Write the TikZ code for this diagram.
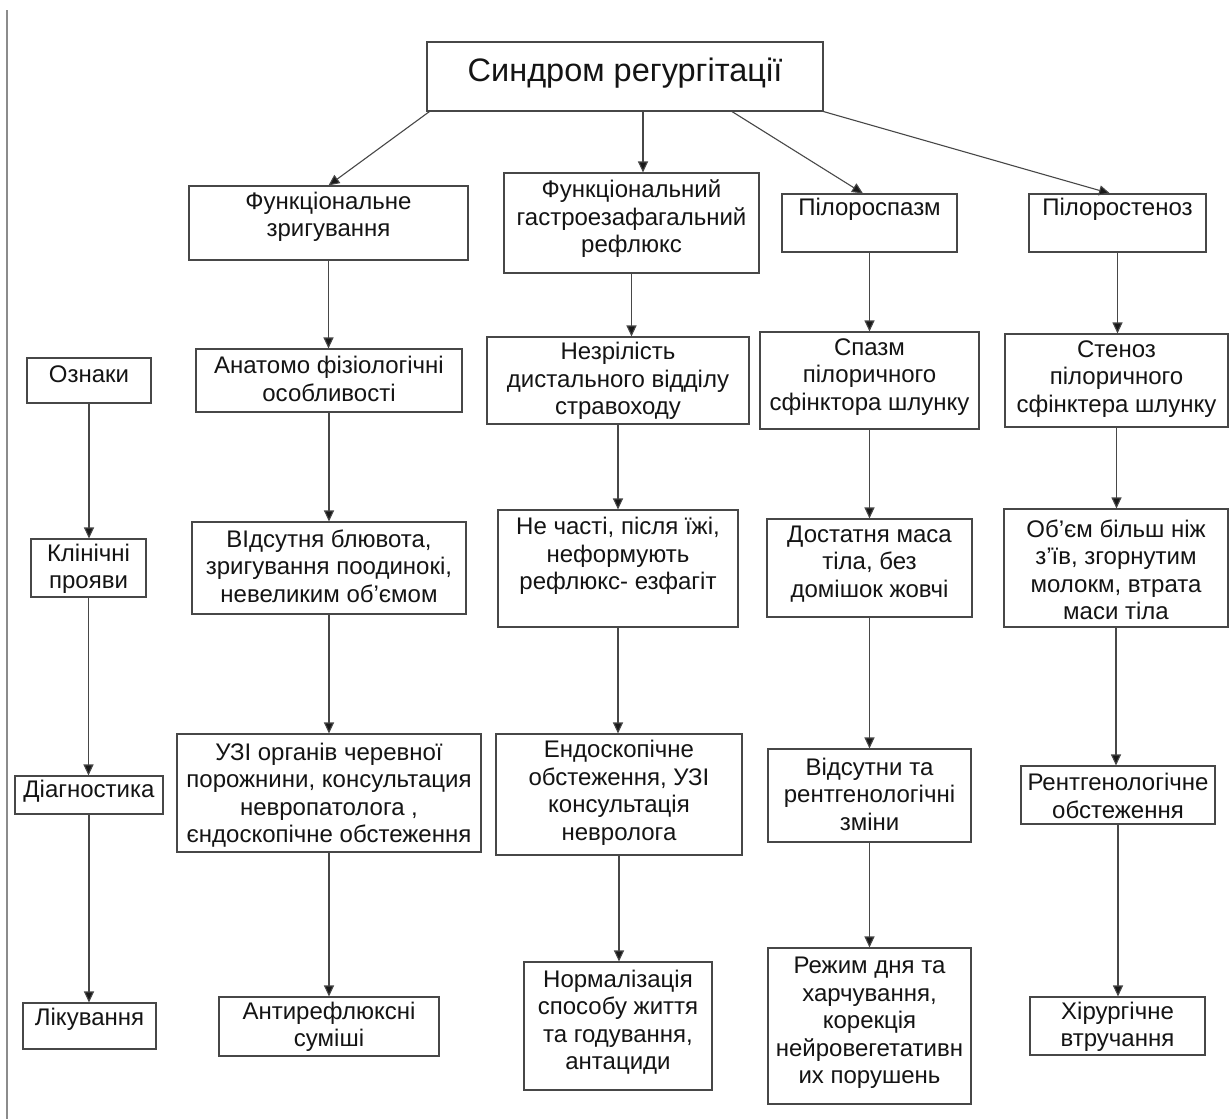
\documentclass[tikz,border=0pt]{standalone}
\usepackage{fontspec}
\setmainfont{Liberation Sans}
\usetikzlibrary{arrows.meta}
\newcommand{\mybox}[7]{%
 \node[boxshape,minimum width={(#4-#2)*1pt},minimum height={(#5-#3)*1pt}] (#1) at ({(#2+#4)/2},{(#3+#5)/2}) {};
 \node[txt] (#1-t) at ({(#2+#4)/2},#6) {#7};}
\begin{document}
\begin{tikzpicture}[x=1pt,y=-1pt,
  boxshape/.style={draw=black!72,line width=1.1pt,inner sep=0pt,rectangle},
  txt/.style={align=center,inner sep=0pt,font=\fontsize{24}{27.5}\selectfont,text=black!92},
  conn/.style={draw=black!72,line width=1.1pt,-{Triangle[length=11pt,width=10pt,fill=black!90]}}]
\useasboundingbox (0,0) rectangle (1229,1119);
\fill[white] (0,0) rectangle (1229,1119);
\draw[black!45,line width=1.2pt] (7,10) -- (7,1119);
% title
\node[boxshape,minimum width=396pt,minimum height=69pt] (title) at (625,76.5) {};
\node[inner sep=0pt,font=\fontsize{32.5}{38}\selectfont,text=black!92] (title-t) at (625,73) {Синдром регургітації};
% row 1
\mybox{f1}{189}{186}{468}{260}{217}{Функціональне\\зригування}
\mybox{f2}{504}{173}{759}{273}{219}{Функціональний\\гастроезафагальний\\рефлюкс}
\mybox{f3}{782}{194}{957}{252}{209}{Пілороспазм}
\mybox{f4}{1029}{194}{1206}{252}{209}{Пілоростеноз}
% row 2
\mybox{oz}{27}{358}{151}{403}{374}{Ознаки}
\mybox{a2}{196}{349}{462}{412}{379}{Анатомо фізіологічні\\особливості}
\mybox{b2}{487}{337}{749}{424}{381}{Незрілість\\дистального відділу\\стравоходу}
\mybox{c2}{760}{332}{979}{429}{377}{Спазм\\пілоричного\\сфінктора шлунку}
\mybox{d2}{1005}{334}{1228}{427}{379}{Стеноз\\пілоричного\\сфінктера шлунку}
% row 3
\mybox{kl}{31}{539}{146}{597}{569}{Клінічні\\прояви}
\mybox{a3}{192}{522}{466}{614}{566}{ВІдсутня блювота,\\зригування поодинокі,\\невеликим об’ємом}
\mybox{b3}{498}{510}{738}{627}{556}{Не часті, після їжі,\\неформують\\рефлюкс- езфагіт}
\mybox{c3}{767}{519}{972}{617}{564}{Достатня маса\\тіла, без\\домішок жовчі}
\mybox{d3}{1004}{509}{1228}{627}{570}{Об’єм більш ніж\\з’їв, згорнутим\\молокм, втрата\\маси тіла}
% row 4
\mybox{di}{15}{776}{163}{814}{791}{Діагностика}
\mybox{a4}{177}{734}{481}{852}{795}{УЗІ органів черевної\\порожнини, консультация\\невропатолога ,\\єндоскопічне обстеження}
\mybox{b4}{496}{734}{742}{855}{793}{Ендоскопічне\\обстеження, УЗІ\\консультація\\невролога}
\mybox{c4}{768}{749}{971}{842}{794}{Відсутни та\\рентгенологічні\\зміни}
\mybox{d4}{1021}{766}{1215}{824}{796}{Рентгенологічне\\обстеження}
% row 5
\mybox{li}{23}{1003}{156}{1049}{1019}{Лікування}
\mybox{a5}{219}{997}{439}{1056}{1027}{Антирефлюксні\\суміші}
\mybox{b5}{524}{962}{712}{1090}{1022}{Нормалізація\\способу життя\\та годування,\\антациди}
\mybox{c5}{768}{948}{971}{1104}{1023}{Режим дня та\\харчування,\\корекція\\нейровегетативн\\их порушень}
\mybox{d5}{1030}{997}{1205}{1055}{1027}{Хірургічне\\втручання}
% title arrows
\draw[conn] ([xshift=3pt]title.south west) -- (f1.north);
\draw[conn] ([xshift=18pt]title.south) -- ([xshift=18pt]title.south |- f2.north);
\draw[conn] ([xshift=107pt]title.south) -- ([xshift=-6.5pt]f3.north);
\draw[conn] (title.south east) -- ([xshift=-7.5pt]f4.north);
% column arrows
\draw[conn] (oz.south) -- (oz.south |- kl.north);
\draw[conn] (kl.south) -- (kl.south |- di.north);
\draw[conn] (di.south) -- (di.south |- li.north);
\draw[conn] (f1.south) -- (f1.south |- a2.north);
\draw[conn] (a2.south) -- (a2.south |- a3.north);
\draw[conn] (a3.south) -- (a3.south |- a4.north);
\draw[conn] (a4.south) -- (a4.south |- a5.north);
\draw[conn] (f2.south) -- (f2.south |- b2.north);
\draw[conn] (b2.south) -- (b2.south |- b3.north);
\draw[conn] (b3.south) -- (b3.south |- b4.north);
\draw[conn] (b4.south) -- (b4.south |- b5.north);
\draw[conn] (f3.south) -- (f3.south |- c2.north);
\draw[conn] (c2.south) -- (c2.south |- c3.north);
\draw[conn] (c3.south) -- (c3.south |- c4.north);
\draw[conn] (c4.south) -- (c4.south |- c5.north);
\draw[conn] (f4.south) -- (f4.south |- d2.north);
\draw[conn] (d2.south) -- (d2.south |- d3.north);
\draw[conn] (d3.south) -- (d3.south |- d4.north);
\draw[conn] (d4.south) -- (d4.south |- d5.north);
\end{tikzpicture}
\end{document}
